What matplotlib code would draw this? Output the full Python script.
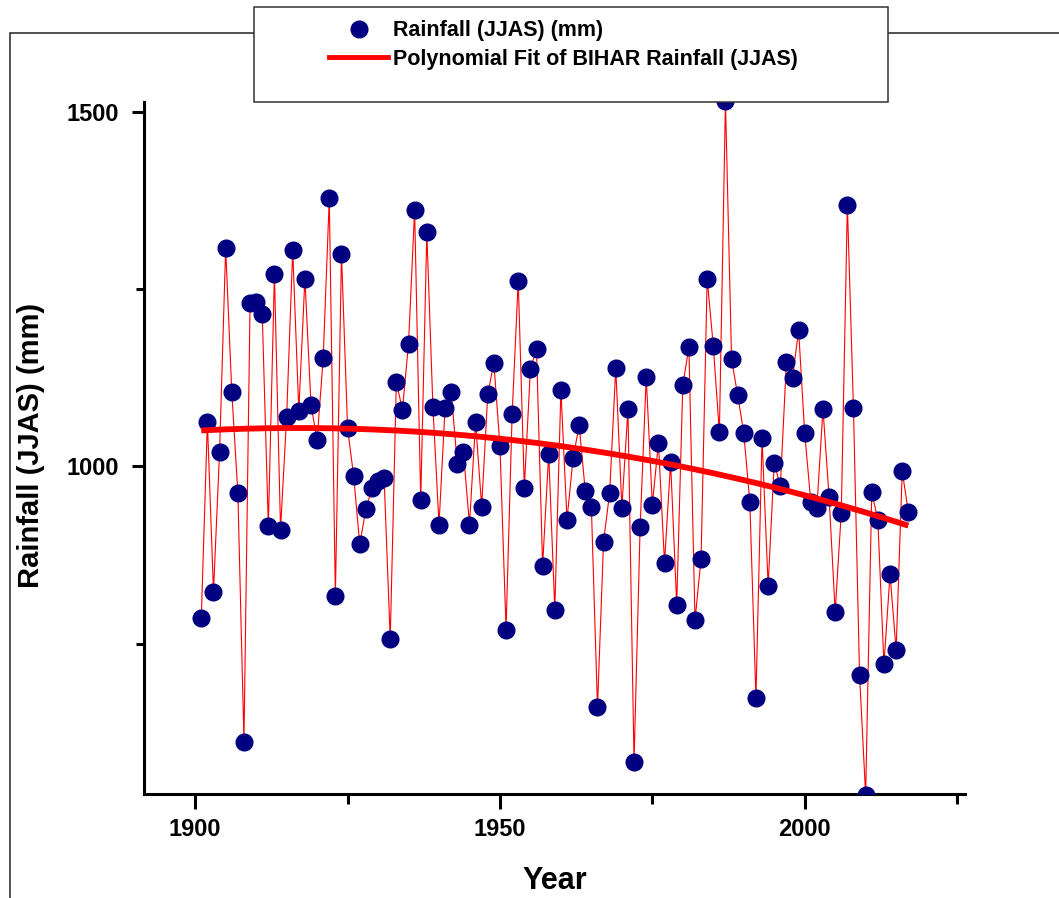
import numpy as np
import matplotlib
matplotlib.use("Agg")
import matplotlib.pyplot as plt
from matplotlib.patches import Rectangle
from matplotlib.lines import Line2D
from matplotlib.ticker import FixedLocator

plt.rcParams['font.family'] = ['Liberation Sans', 'DejaVu Sans']
plt.rcParams['font.weight'] = 'bold'

years = list(range(1901, 2018))
rainfall = [
    786, 1063, 823, 1021, 1308, 1105, 963, 612, 1230, 1232,
    1215, 916, 1272, 911, 1070, 1305, 1078, 1265, 1087, 1037,
    1153, 1378, 817, 1300, 1054, 986, 890, 940, 969, 980,
    983, 756, 1119, 1080, 1173, 1362, 952, 1330, 1084, 918,
    1083, 1105, 1004, 1021, 918, 1063, 943, 1102, 1146, 1029,
    770, 1074, 1262, 970, 1138, 1165, 860, 1018, 798, 1108,
    925, 1012, 1058, 965, 943, 660, 894, 963, 1139, 942,
    1081, 583, 915, 1126, 946, 1033, 864, 1006, 805, 1115,
    1168, 783, 870, 1265, 1170, 1048, 1515, 1151, 1101, 1047,
    950, 673, 1040, 832, 1005, 972, 1147, 1125, 1192, 1047,
    950, 942, 1081, 957, 795, 935, 1369, 1082, 706, 536,
    964, 924, 721, 848, 741, 993, 936,
]
x_major = [1900, 1950, 2000]
x_minor = [1925, 1975, 2025]
y_major = [1000, 1500]
y_minor = [750, 1250]

label_points = "Rainfall (JJAS) (mm)"
label_fit = "Polynomial Fit of BIHAR Rainfall (JJAS)"

W, H = 1059, 898
fig = plt.figure(figsize=(W / 100, H / 100), dpi=100)
fig.patch.set_facecolor('white')

# outer frame (top and left lines)
fig.add_artist(Rectangle((10 / W, -0.1), 1.2, (1 - 33 / H) + 0.1,
                         transform=fig.transFigure, fill=False,
                         edgecolor='#222222', linewidth=1.1, zorder=0))

ax = fig.add_axes([144 / W, 1 - 794 / H, (965 - 144) / W, (794 - 102) / H])
ax.set_facecolor('none')

yr = np.array(years, dtype=float)
rf = np.array(rainfall, dtype=float)

ax.plot(yr, rf, color='red', linewidth=0.8, zorder=2)
ax.plot(yr, rf, linestyle='none', marker='o', markersize=12,
        markerfacecolor='#000080', markeredgecolor='#000080', zorder=3)

coef = np.polyfit(yr, rf, 2)
xf = np.linspace(yr.min(), yr.max(), 300)
ax.plot(xf, np.polyval(coef, xf), color='red', linewidth=4.2, zorder=4,
        solid_capstyle='butt')

ax.set_xlim(1891.6, 2026.3)
ax.set_ylim(538, 1514)

for s in ['top', 'right']:
    ax.spines[s].set_visible(False)
for s in ['left', 'bottom']:
    ax.spines[s].set_linewidth(2.2)

ax.xaxis.set_major_locator(FixedLocator(x_major))
ax.xaxis.set_minor_locator(FixedLocator(x_minor))
ax.yaxis.set_major_locator(FixedLocator(y_major))
ax.yaxis.set_minor_locator(FixedLocator(y_minor))

ax.tick_params(axis='x', which='major', direction='out', length=11, width=2.2,
               pad=6, labelsize=17)
ax.tick_params(axis='x', which='minor', direction='out', length=7, width=2.2)
ax.tick_params(axis='y', which='major', direction='out', length=9, width=2.2,
               pad=9, labelsize=17)
ax.tick_params(axis='y', which='minor', direction='out', length=6, width=2.2)
for lab in ax.get_xticklabels() + ax.get_yticklabels():
    lab.set_fontweight('bold')

fig.text(31 / W, 1 - 445 / H, 'Rainfall (JJAS) (mm)', rotation=90,
         ha='center', va='center', fontsize=21, fontweight='bold')
fig.text(555 / W, 1 - 881 / H, 'Year', ha='center', va='center',
         fontsize=22, fontweight='bold')

# legend box
fig.add_artist(Rectangle((254 / W, 1 - 102 / H), (888 - 254) / W, (102 - 7) / H,
                         transform=fig.transFigure, facecolor='white',
                         edgecolor='#333333', linewidth=1.1, zorder=5))
handles = [
    Line2D([], [], linestyle='none', marker='o', markersize=12,
           markerfacecolor='#000080', markeredgecolor='#000080'),
    Line2D([], [], color='red', linewidth=3.5),
]
leg = fig.legend(handles, [label_points, label_fit], loc='upper left',
                 bbox_to_anchor=(314 / W, 1 - 5 / H), frameon=False,
                 prop={'size': 15.5, 'weight': 'bold'}, handlelength=2.75,
                 handletextpad=0.2, labelspacing=0.35, borderpad=0.2)
leg.set_zorder(6)

fig.savefig('out.png', dpi=100)
